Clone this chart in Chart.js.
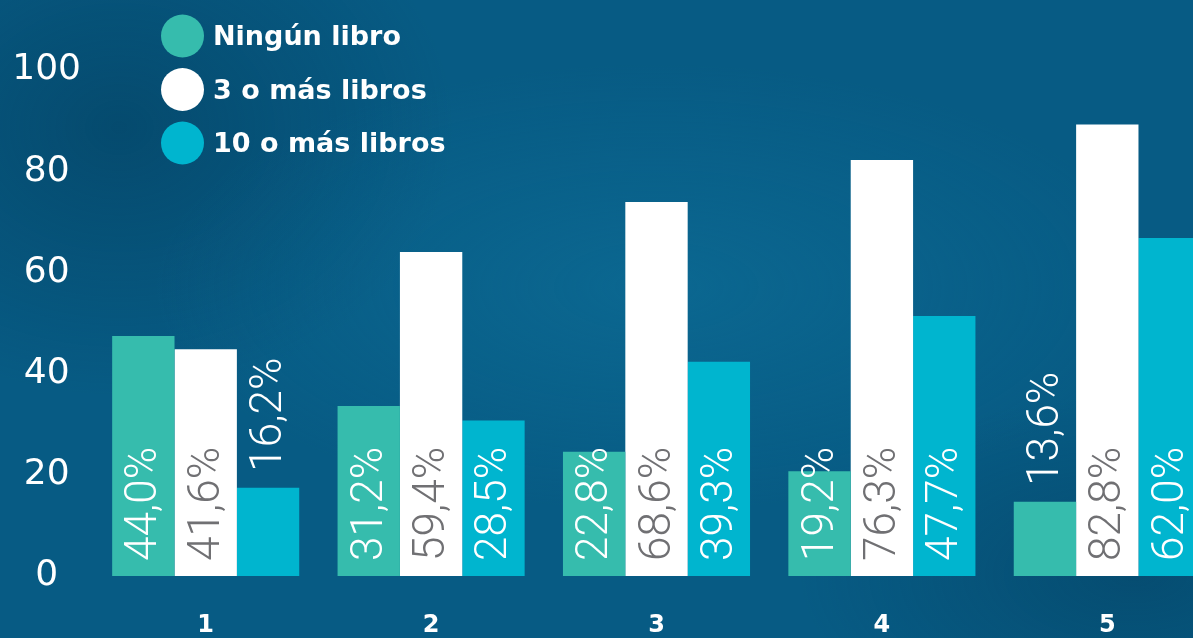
<!DOCTYPE html>
<html lang="es">
<head>
<meta charset="utf-8">
<title>Libros</title>
<script src="https://cdn.jsdelivr.net/npm/chart.js@4/dist/chart.umd.min.js"></script>
<style>
  html, body {
    margin: 0;
    width: 1193px;
    height: 638px;
    overflow: hidden;
  }
  body {
    background:
      radial-gradient(ellipse 60% 50% at 55% 45%, rgba(16, 118, 160, 0.45), rgba(16, 118, 160, 0) 70%),
      radial-gradient(ellipse 40% 60% at 10% 20%, rgba(2, 50, 78, 0.4), rgba(2, 50, 78, 0) 70%),
      radial-gradient(ellipse 40% 40% at 95% 90%, rgba(2, 50, 78, 0.35), rgba(2, 50, 78, 0) 70%),
      #075b84;
  }
  #wrap {
    position: absolute;
    left: 0;
    top: 0;
    width: 1230px;
    height: 638px;
  }
</style>
</head>
<body>
<div id="wrap"><canvas id="chart" width="1230" height="638"></canvas></div>
<script>
const categories = ['1', '2', '3', '4', '5'];
const seriesNames = ['Ningún libro', '3 o más libros', '10 o más libros'];
const ningunLibro = [44.0, 31.2, 22.8, 19.2, 13.6];
const tresOMas = [41.6, 59.4, 68.6, 76.3, 82.8];
const diezOMas = [16.2, 28.5, 39.3, 47.7, 62.0];
const axisTicks = [0, 20, 40, 60, 80, 100];

const colors = ['#36bcad', '#ffffff', '#00b5cf'];
const labelColors = ['#ffffff', '#707073', '#ffffff'];

// leyenda en columna con círculos
const legendPlugin = {
  id: 'circleLegend',
  afterDraw(chart) {
    const ctx = chart.ctx;
    ctx.save();
    chart.data.datasets.forEach((ds, i) => {
      const cy = 36 + i * 53.5;
      ctx.fillStyle = ds.backgroundColor;
      ctx.beginPath();
      ctx.arc(182.5, cy, 21.5, 0, Math.PI * 2);
      ctx.fill();
      ctx.fillStyle = '#ffffff';
      ctx.font = 'bold 27px "DejaVu Sans", sans-serif';
      ctx.textAlign = 'left';
      ctx.textBaseline = 'middle';
      ctx.fillText(ds.label, 213, cy + 2);
    });
    ctx.restore();
  }
};

// porcentajes verticales dentro de las barras
const valueLabels = {
  id: 'valueLabels',
  afterDatasetsDraw(chart) {
    const ctx = chart.ctx;
    ctx.save();
    ctx.font = '300 44px Roboto, "DejaVu Sans", sans-serif';
    ctx.textAlign = 'left';
    ctx.textBaseline = 'middle';
    chart.data.datasets.forEach((ds, i) => {
      const meta = chart.getDatasetMeta(i);
      meta.data.forEach((bar, j) => {
        const txt = ds.data[j].toFixed(1).replace('.', ',') + '%';
        const h = bar.base - bar.y;
        let y, color;
        if (h >= 100) {
          y = bar.base - 15;
          color = labelColors[i];
        } else {
          y = bar.y - 16;
          color = '#ffffff';
        }
        ctx.save();
        ctx.translate(bar.x + 2, y);
        ctx.rotate(-Math.PI / 2);
        ctx.fillStyle = color;
        ctx.fillText(txt, 0, 0);
        ctx.restore();
      });
    });
    ctx.restore();
  }
};

const series = [ningunLibro, tresOMas, diezOMas];

new Chart(document.getElementById('chart'), {
  type: 'bar',
  data: {
    labels: categories,
    datasets: series.map((d, i) => ({
      label: seriesNames[i],
      data: d,
      backgroundColor: colors[i],
      borderWidth: 0,
      yAxisID: 'y',
      barPercentage: 1,
      categoryPercentage: 0.83
    }))
  },
  options: {
    responsive: false,
    animation: false,
    layout: { padding: { top: 70, right: 10, left: 0, bottom: 0 } },
    plugins: {
      legend: { display: false },
      tooltip: { enabled: false }
    },
    scales: {
      x: {
        grid: { display: false, drawTicks: false },
        border: { display: false },
        ticks: {
          color: '#ffffff',
          font: { family: '"DejaVu Sans", sans-serif', size: 24, weight: 'bold' },
          padding: 35
        },
        afterFit(scale) { scale.height = 62; }
      },
      y: {
        display: false,
        min: 0,
        max: 92.8
      },
      y2: {
        type: 'linear',
        position: 'left',
        min: axisTicks[0],
        max: axisTicks[axisTicks.length - 1],
        grid: { display: false, drawTicks: false },
        border: { display: false },
        afterBuildTicks(scale) { scale.ticks = axisTicks.map(v => ({ value: v })); },
        ticks: {
          color: '#ffffff',
          font: { family: '"DejaVu Sans", sans-serif', size: 36 },
          crossAlign: 'center',
          padding: 12
        },
        afterFit(scale) { scale.width = 93; }
      }
    }
  },
  plugins: [legendPlugin, valueLabels]
});
</script>
</body>
</html>
